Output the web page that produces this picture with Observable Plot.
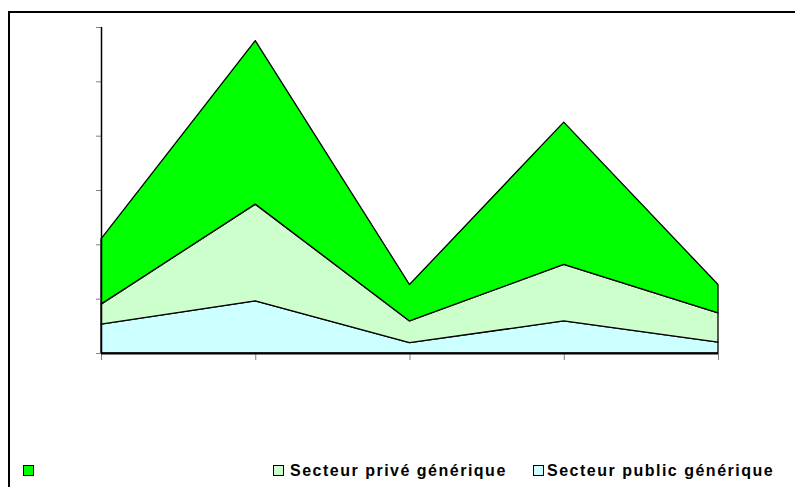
<!DOCTYPE html>
<html>
<head>
<meta charset="utf-8">
<script src="https://cdn.jsdelivr.net/npm/d3@7"></script>
<script src="https://cdn.jsdelivr.net/npm/@observablehq/plot@0.6"></script>
<style>
  html, body { margin: 0; padding: 0; background: #fff; }
  #wrap { position: relative; width: 795px; height: 487px; overflow: hidden; }
  #frame { position: absolute; left: 8px; top: 11px; width: 800px; height: 500px;
           border-left: 2.5px solid #000; border-top: 2.5px solid #000; box-sizing: border-box; }
  #chart { position: absolute; left: 0; top: 0; }
  .leg { position: absolute; top: 461px; font-family: "Liberation Sans", Arial, sans-serif;
         font-weight: bold; font-size: 16px; letter-spacing: 1.5px; color: #000; white-space: nowrap; line-height: 19px; }
  .sw { position: absolute; top: 465px; width: 9px; height: 9px; border: 1.2px solid #000; }
</style>
</head>
<body>
<div id="wrap">
  <div id="frame"></div>
  <div id="chart"></div>
</div>
<script>
// Periods (no labels shown on the axis)
const periods = ["P1", "P2", "P3", "P4", "P5"];
// Series values (stacked, bottom to top)
const publicVals = [0.53, 0.96, 0.19, 0.59, 0.20];
const priveVals  = [0.37, 1.78, 0.40, 1.04, 0.54];
const autreVals  = [1.20, 3.01, 0.67, 2.62, 0.52];
const seriesKeys   = ["public", "prive", "autre"];
const seriesLabels = ["Secteur public générique", "Secteur privé générique", ""];
const seriesColors = ["#CCFFFF", "#CCFFCC", "#00FF00"];
const yTicks = [0, 1, 2, 3, 4, 5, 6];

const seriesVals = [publicVals, priveVals, autreVals];
const data = [];
periods.forEach((p, i) => {
  seriesKeys.forEach((k, s) => data.push({i, period: p, key: k, v: seriesVals[s][i]}));
});

const chart = Plot.plot({
  width: 795,
  height: 380,
  marginLeft: 101,
  marginRight: 77,
  marginTop: 27,
  marginBottom: 27,
  x: {type: "linear", domain: [0, periods.length - 1], axis: null},
  y: {domain: [0, 6], axis: null},
  color: {domain: seriesKeys, range: seriesColors},
  marks: [
    Plot.areaY(data, {x: "i", y: "v", z: "key", fill: "key", stroke: "#000", strokeWidth: 1.3}),
    Plot.axisY({ticks: yTicks, tickFormat: () => "", tickSize: 5, stroke: "#808080", label: null}),
    Plot.ruleX([0], {y1: 0, y2: 6, stroke: "#000", strokeWidth: 1.5}),
    Plot.axisX({ticks: periods.map((p, i) => i), tickFormat: () => "", tickSize: 7, stroke: "#808080", label: null}),
    Plot.ruleY([0], {stroke: "#000", strokeWidth: 2.2})
  ]
});
document.getElementById("chart").appendChild(chart);

// Legend (HTML, below the plot)
const wrap = document.getElementById("wrap");
const legendPos = [
  {key: "autre", box: 23, text: null},
  {key: "prive", box: 273, text: 290},
  {key: "public", box: 533, text: 547}
];
legendPos.forEach(lp => {
  const s = seriesKeys.indexOf(lp.key);
  const sw = document.createElement("div");
  sw.className = "sw";
  sw.style.left = lp.box + "px";
  sw.style.background = seriesColors[s];
  wrap.appendChild(sw);
  if (seriesLabels[s]) {
    const t = document.createElement("div");
    t.className = "leg";
    t.style.left = lp.text + "px";
    t.textContent = seriesLabels[s];
    wrap.appendChild(t);
  }
});
</script>
</body>
</html>
